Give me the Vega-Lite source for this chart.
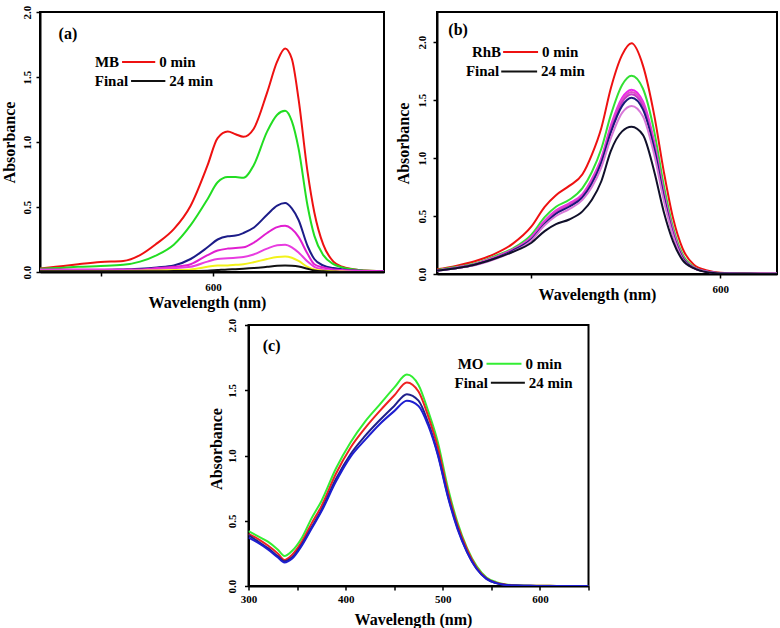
{
  "$schema": "https://vega.github.io/schema/vega-lite/v6.json",
  "background": "white",
  "padding": {"left": 0, "top": 4, "right": 0, "bottom": 0},
  "spacing": 6,
  "datasets": {
    "mb": [
      {"time":"0 min","wl":445,"abs":0.025},{"time":"0 min","wl":460,"abs":0.04},{"time":"0 min","wl":480,"abs":0.06},{"time":"0 min","wl":500,"abs":0.077},{"time":"0 min","wl":520,"abs":0.085},{"time":"0 min","wl":535,"abs":0.13},{"time":"0 min","wl":550,"abs":0.22},{"time":"0 min","wl":565,"abs":0.33},{"time":"0 min","wl":580,"abs":0.51},{"time":"0 min","wl":595,"abs":0.82},{"time":"0 min","wl":604,"abs":1.03},{"time":"0 min","wl":613,"abs":1.08},{"time":"0 min","wl":620,"abs":1.06},{"time":"0 min","wl":627,"abs":1.04},{"time":"0 min","wl":636,"abs":1.10},{"time":"0 min","wl":648,"abs":1.38},{"time":"0 min","wl":657,"abs":1.62},{"time":"0 min","wl":664,"abs":1.72},{"time":"0 min","wl":670,"abs":1.64},{"time":"0 min","wl":676,"abs":1.33},{"time":"0 min","wl":684,"abs":0.77},{"time":"0 min","wl":690,"abs":0.46},{"time":"0 min","wl":698,"abs":0.21},{"time":"0 min","wl":707,"abs":0.08},{"time":"0 min","wl":715,"abs":0.04},{"time":"0 min","wl":730,"abs":0.015},{"time":"0 min","wl":752,"abs":0.005},
      {"time":"4 min","wl":445,"abs":0.025},{"time":"4 min","wl":460,"abs":0.03},{"time":"4 min","wl":480,"abs":0.04},{"time":"4 min","wl":500,"abs":0.046},{"time":"4 min","wl":520,"abs":0.055},{"time":"4 min","wl":535,"abs":0.08},{"time":"4 min","wl":550,"abs":0.13},{"time":"4 min","wl":565,"abs":0.21},{"time":"4 min","wl":580,"abs":0.36},{"time":"4 min","wl":595,"abs":0.56},{"time":"4 min","wl":604,"abs":0.69},{"time":"4 min","wl":613,"abs":0.73},{"time":"4 min","wl":620,"abs":0.73},{"time":"4 min","wl":627,"abs":0.725},{"time":"4 min","wl":636,"abs":0.82},{"time":"4 min","wl":648,"abs":1.08},{"time":"4 min","wl":657,"abs":1.21},{"time":"4 min","wl":664,"abs":1.24},{"time":"4 min","wl":670,"abs":1.16},{"time":"4 min","wl":676,"abs":0.95},{"time":"4 min","wl":684,"abs":0.51},{"time":"4 min","wl":690,"abs":0.28},{"time":"4 min","wl":698,"abs":0.13},{"time":"4 min","wl":707,"abs":0.06},{"time":"4 min","wl":715,"abs":0.035},{"time":"4 min","wl":730,"abs":0.015},{"time":"4 min","wl":752,"abs":0.005},
      {"time":"8 min","wl":445,"abs":0.015},{"time":"8 min","wl":460,"abs":0.015},{"time":"8 min","wl":480,"abs":0.015},{"time":"8 min","wl":500,"abs":0.015},{"time":"8 min","wl":520,"abs":0.02},{"time":"8 min","wl":535,"abs":0.025},{"time":"8 min","wl":550,"abs":0.035},{"time":"8 min","wl":565,"abs":0.05},{"time":"8 min","wl":580,"abs":0.10},{"time":"8 min","wl":595,"abs":0.19},{"time":"8 min","wl":604,"abs":0.25},{"time":"8 min","wl":613,"abs":0.275},{"time":"8 min","wl":620,"abs":0.28},{"time":"8 min","wl":627,"abs":0.30},{"time":"8 min","wl":636,"abs":0.34},{"time":"8 min","wl":648,"abs":0.44},{"time":"8 min","wl":657,"abs":0.51},{"time":"8 min","wl":664,"abs":0.53},{"time":"8 min","wl":670,"abs":0.49},{"time":"8 min","wl":676,"abs":0.40},{"time":"8 min","wl":684,"abs":0.20},{"time":"8 min","wl":690,"abs":0.10},{"time":"8 min","wl":698,"abs":0.05},{"time":"8 min","wl":707,"abs":0.03},{"time":"8 min","wl":715,"abs":0.02},{"time":"8 min","wl":730,"abs":0.01},{"time":"8 min","wl":752,"abs":0.005},
      {"time":"12 min","wl":445,"abs":0.02},{"time":"12 min","wl":460,"abs":0.02},{"time":"12 min","wl":480,"abs":0.02},{"time":"12 min","wl":500,"abs":0.02},{"time":"12 min","wl":520,"abs":0.02},{"time":"12 min","wl":535,"abs":0.02},{"time":"12 min","wl":550,"abs":0.03},{"time":"12 min","wl":565,"abs":0.04},{"time":"12 min","wl":580,"abs":0.06},{"time":"12 min","wl":595,"abs":0.13},{"time":"12 min","wl":604,"abs":0.165},{"time":"12 min","wl":613,"abs":0.18},{"time":"12 min","wl":620,"abs":0.185},{"time":"12 min","wl":627,"abs":0.19},{"time":"12 min","wl":636,"abs":0.225},{"time":"12 min","wl":648,"abs":0.30},{"time":"12 min","wl":657,"abs":0.345},{"time":"12 min","wl":664,"abs":0.355},{"time":"12 min","wl":670,"abs":0.33},{"time":"12 min","wl":676,"abs":0.27},{"time":"12 min","wl":684,"abs":0.14},{"time":"12 min","wl":690,"abs":0.06},{"time":"12 min","wl":698,"abs":0.035},{"time":"12 min","wl":707,"abs":0.02},{"time":"12 min","wl":715,"abs":0.015},{"time":"12 min","wl":730,"abs":0.01},{"time":"12 min","wl":752,"abs":0.005},
      {"time":"16 min","wl":445,"abs":0.015},{"time":"16 min","wl":460,"abs":0.015},{"time":"16 min","wl":480,"abs":0.015},{"time":"16 min","wl":500,"abs":0.015},{"time":"16 min","wl":520,"abs":0.015},{"time":"16 min","wl":535,"abs":0.015},{"time":"16 min","wl":550,"abs":0.02},{"time":"16 min","wl":565,"abs":0.03},{"time":"16 min","wl":580,"abs":0.04},{"time":"16 min","wl":595,"abs":0.08},{"time":"16 min","wl":604,"abs":0.10},{"time":"16 min","wl":613,"abs":0.105},{"time":"16 min","wl":620,"abs":0.11},{"time":"16 min","wl":627,"abs":0.115},{"time":"16 min","wl":636,"abs":0.135},{"time":"16 min","wl":648,"abs":0.18},{"time":"16 min","wl":657,"abs":0.205},{"time":"16 min","wl":664,"abs":0.21},{"time":"16 min","wl":670,"abs":0.19},{"time":"16 min","wl":676,"abs":0.15},{"time":"16 min","wl":684,"abs":0.08},{"time":"16 min","wl":690,"abs":0.04},{"time":"16 min","wl":698,"abs":0.02},{"time":"16 min","wl":707,"abs":0.01},{"time":"16 min","wl":715,"abs":0.01},{"time":"16 min","wl":730,"abs":0.005},{"time":"16 min","wl":752,"abs":0},
      {"time":"20 min","wl":445,"abs":0.005},{"time":"20 min","wl":460,"abs":0.005},{"time":"20 min","wl":480,"abs":0.005},{"time":"20 min","wl":500,"abs":0.005},{"time":"20 min","wl":520,"abs":0.008},{"time":"20 min","wl":535,"abs":0.01},{"time":"20 min","wl":550,"abs":0.012},{"time":"20 min","wl":565,"abs":0.015},{"time":"20 min","wl":580,"abs":0.02},{"time":"20 min","wl":595,"abs":0.04},{"time":"20 min","wl":604,"abs":0.05},{"time":"20 min","wl":613,"abs":0.05},{"time":"20 min","wl":620,"abs":0.055},{"time":"20 min","wl":627,"abs":0.06},{"time":"20 min","wl":636,"abs":0.075},{"time":"20 min","wl":648,"abs":0.10},{"time":"20 min","wl":657,"abs":0.115},{"time":"20 min","wl":664,"abs":0.12},{"time":"20 min","wl":670,"abs":0.11},{"time":"20 min","wl":676,"abs":0.085},{"time":"20 min","wl":684,"abs":0.04},{"time":"20 min","wl":690,"abs":0.02},{"time":"20 min","wl":698,"abs":0.01},{"time":"20 min","wl":707,"abs":0.005},{"time":"20 min","wl":715,"abs":0.003},{"time":"20 min","wl":730,"abs":0},{"time":"20 min","wl":752,"abs":0},
      {"time":"24 min","wl":445,"abs":0.005},{"time":"24 min","wl":460,"abs":0.005},{"time":"24 min","wl":480,"abs":0.005},{"time":"24 min","wl":500,"abs":0.005},{"time":"24 min","wl":520,"abs":0.005},{"time":"24 min","wl":535,"abs":0.005},{"time":"24 min","wl":550,"abs":0.005},{"time":"24 min","wl":565,"abs":0.007},{"time":"24 min","wl":580,"abs":0.008},{"time":"24 min","wl":595,"abs":0.01},{"time":"24 min","wl":604,"abs":0.015},{"time":"24 min","wl":613,"abs":0.02},{"time":"24 min","wl":620,"abs":0.022},{"time":"24 min","wl":627,"abs":0.025},{"time":"24 min","wl":636,"abs":0.03},{"time":"24 min","wl":648,"abs":0.04},{"time":"24 min","wl":657,"abs":0.048},{"time":"24 min","wl":664,"abs":0.05},{"time":"24 min","wl":670,"abs":0.048},{"time":"24 min","wl":676,"abs":0.042},{"time":"24 min","wl":684,"abs":0.025},{"time":"24 min","wl":690,"abs":0.012},{"time":"24 min","wl":698,"abs":0.005},{"time":"24 min","wl":707,"abs":0.002},{"time":"24 min","wl":715,"abs":0},{"time":"24 min","wl":730,"abs":0},{"time":"24 min","wl":752,"abs":0}
    ],
    "rhb": [
      {"time":"0 min","wl":450,"abs":0.04},{"time":"0 min","wl":460,"abs":0.07},{"time":"0 min","wl":470,"abs":0.11},{"time":"0 min","wl":480,"abs":0.17},{"time":"0 min","wl":490,"abs":0.26},{"time":"0 min","wl":500,"abs":0.41},{"time":"0 min","wl":507,"abs":0.58},{"time":"0 min","wl":513,"abs":0.68},{"time":"0 min","wl":520,"abs":0.76},{"time":"0 min","wl":527,"abs":0.86},{"time":"0 min","wl":532,"abs":1.03},{"time":"0 min","wl":537,"abs":1.26},{"time":"0 min","wl":542,"abs":1.60},{"time":"0 min","wl":548,"abs":1.89},{"time":"0 min","wl":553,"abs":1.99},{"time":"0 min","wl":559,"abs":1.80},{"time":"0 min","wl":565,"abs":1.37},{"time":"0 min","wl":570,"abs":0.89},{"time":"0 min","wl":575,"abs":0.48},{"time":"0 min","wl":580,"abs":0.22},{"time":"0 min","wl":586,"abs":0.08},{"time":"0 min","wl":593,"abs":0.03},{"time":"0 min","wl":600,"abs":0.01},{"time":"0 min","wl":615,"abs":0.005},{"time":"0 min","wl":630,"abs":0.003},
      {"time":"4 min","wl":450,"abs":0.035},{"time":"4 min","wl":460,"abs":0.06},{"time":"4 min","wl":470,"abs":0.09},{"time":"4 min","wl":480,"abs":0.15},{"time":"4 min","wl":490,"abs":0.22},{"time":"4 min","wl":500,"abs":0.34},{"time":"4 min","wl":507,"abs":0.49},{"time":"4 min","wl":513,"abs":0.58},{"time":"4 min","wl":520,"abs":0.64},{"time":"4 min","wl":527,"abs":0.74},{"time":"4 min","wl":532,"abs":0.88},{"time":"4 min","wl":537,"abs":1.08},{"time":"4 min","wl":542,"abs":1.37},{"time":"4 min","wl":548,"abs":1.63},{"time":"4 min","wl":553,"abs":1.71},{"time":"4 min","wl":559,"abs":1.60},{"time":"4 min","wl":565,"abs":1.23},{"time":"4 min","wl":570,"abs":0.77},{"time":"4 min","wl":575,"abs":0.40},{"time":"4 min","wl":580,"abs":0.17},{"time":"4 min","wl":586,"abs":0.06},{"time":"4 min","wl":593,"abs":0.02},{"time":"4 min","wl":600,"abs":0.008},{"time":"4 min","wl":615,"abs":0.004},{"time":"4 min","wl":630,"abs":0.002},
      {"time":"8 min","wl":450,"abs":0.03},{"time":"8 min","wl":460,"abs":0.055},{"time":"8 min","wl":470,"abs":0.085},{"time":"8 min","wl":480,"abs":0.14},{"time":"8 min","wl":490,"abs":0.21},{"time":"8 min","wl":500,"abs":0.32},{"time":"8 min","wl":507,"abs":0.46},{"time":"8 min","wl":513,"abs":0.55},{"time":"8 min","wl":520,"abs":0.61},{"time":"8 min","wl":527,"abs":0.69},{"time":"8 min","wl":532,"abs":0.82},{"time":"8 min","wl":537,"abs":1.00},{"time":"8 min","wl":542,"abs":1.28},{"time":"8 min","wl":548,"abs":1.52},{"time":"8 min","wl":553,"abs":1.59},{"time":"8 min","wl":559,"abs":1.49},{"time":"8 min","wl":565,"abs":1.14},{"time":"8 min","wl":570,"abs":0.71},{"time":"8 min","wl":575,"abs":0.37},{"time":"8 min","wl":580,"abs":0.15},{"time":"8 min","wl":586,"abs":0.055},{"time":"8 min","wl":593,"abs":0.02},{"time":"8 min","wl":600,"abs":0.007},{"time":"8 min","wl":615,"abs":0.003},{"time":"8 min","wl":630,"abs":0.002},
      {"time":"12 min","wl":450,"abs":0.03},{"time":"12 min","wl":460,"abs":0.055},{"time":"12 min","wl":470,"abs":0.085},{"time":"12 min","wl":480,"abs":0.14},{"time":"12 min","wl":490,"abs":0.21},{"time":"12 min","wl":500,"abs":0.31},{"time":"12 min","wl":507,"abs":0.45},{"time":"12 min","wl":513,"abs":0.54},{"time":"12 min","wl":520,"abs":0.60},{"time":"12 min","wl":527,"abs":0.68},{"time":"12 min","wl":532,"abs":0.81},{"time":"12 min","wl":537,"abs":0.99},{"time":"12 min","wl":542,"abs":1.26},{"time":"12 min","wl":548,"abs":1.50},{"time":"12 min","wl":553,"abs":1.57},{"time":"12 min","wl":559,"abs":1.47},{"time":"12 min","wl":565,"abs":1.12},{"time":"12 min","wl":570,"abs":0.70},{"time":"12 min","wl":575,"abs":0.36},{"time":"12 min","wl":580,"abs":0.15},{"time":"12 min","wl":586,"abs":0.055},{"time":"12 min","wl":593,"abs":0.02},{"time":"12 min","wl":600,"abs":0.007},{"time":"12 min","wl":615,"abs":0.003},{"time":"12 min","wl":630,"abs":0.002},
      {"time":"16 min","wl":450,"abs":0.03},{"time":"16 min","wl":460,"abs":0.05},{"time":"16 min","wl":470,"abs":0.08},{"time":"16 min","wl":480,"abs":0.135},{"time":"16 min","wl":490,"abs":0.205},{"time":"16 min","wl":500,"abs":0.30},{"time":"16 min","wl":507,"abs":0.44},{"time":"16 min","wl":513,"abs":0.53},{"time":"16 min","wl":520,"abs":0.59},{"time":"16 min","wl":527,"abs":0.67},{"time":"16 min","wl":532,"abs":0.79},{"time":"16 min","wl":537,"abs":0.97},{"time":"16 min","wl":542,"abs":1.24},{"time":"16 min","wl":548,"abs":1.48},{"time":"16 min","wl":553,"abs":1.55},{"time":"16 min","wl":559,"abs":1.45},{"time":"16 min","wl":565,"abs":1.10},{"time":"16 min","wl":570,"abs":0.69},{"time":"16 min","wl":575,"abs":0.35},{"time":"16 min","wl":580,"abs":0.14},{"time":"16 min","wl":586,"abs":0.05},{"time":"16 min","wl":593,"abs":0.02},{"time":"16 min","wl":600,"abs":0.007},{"time":"16 min","wl":615,"abs":0.003},{"time":"16 min","wl":630,"abs":0.002},
      {"time":"20 min","wl":450,"abs":0.03},{"time":"20 min","wl":460,"abs":0.05},{"time":"20 min","wl":470,"abs":0.08},{"time":"20 min","wl":480,"abs":0.13},{"time":"20 min","wl":490,"abs":0.20},{"time":"20 min","wl":500,"abs":0.30},{"time":"20 min","wl":507,"abs":0.43},{"time":"20 min","wl":513,"abs":0.52},{"time":"20 min","wl":520,"abs":0.58},{"time":"20 min","wl":527,"abs":0.66},{"time":"20 min","wl":532,"abs":0.78},{"time":"20 min","wl":537,"abs":0.96},{"time":"20 min","wl":542,"abs":1.22},{"time":"20 min","wl":548,"abs":1.45},{"time":"20 min","wl":553,"abs":1.52},{"time":"20 min","wl":559,"abs":1.42},{"time":"20 min","wl":565,"abs":1.08},{"time":"20 min","wl":570,"abs":0.67},{"time":"20 min","wl":575,"abs":0.34},{"time":"20 min","wl":580,"abs":0.14},{"time":"20 min","wl":586,"abs":0.05},{"time":"20 min","wl":593,"abs":0.02},{"time":"20 min","wl":600,"abs":0.007},{"time":"20 min","wl":615,"abs":0.003},{"time":"20 min","wl":630,"abs":0.002},
      {"time":"22 min","wl":450,"abs":0.03},{"time":"22 min","wl":460,"abs":0.05},{"time":"22 min","wl":470,"abs":0.075},{"time":"22 min","wl":480,"abs":0.125},{"time":"22 min","wl":490,"abs":0.19},{"time":"22 min","wl":500,"abs":0.29},{"time":"22 min","wl":507,"abs":0.42},{"time":"22 min","wl":513,"abs":0.50},{"time":"22 min","wl":520,"abs":0.56},{"time":"22 min","wl":527,"abs":0.64},{"time":"22 min","wl":532,"abs":0.75},{"time":"22 min","wl":537,"abs":0.92},{"time":"22 min","wl":542,"abs":1.17},{"time":"22 min","wl":548,"abs":1.39},{"time":"22 min","wl":553,"abs":1.45},{"time":"22 min","wl":559,"abs":1.36},{"time":"22 min","wl":565,"abs":1.03},{"time":"22 min","wl":570,"abs":0.64},{"time":"22 min","wl":575,"abs":0.33},{"time":"22 min","wl":580,"abs":0.13},{"time":"22 min","wl":586,"abs":0.05},{"time":"22 min","wl":593,"abs":0.02},{"time":"22 min","wl":600,"abs":0.007},{"time":"22 min","wl":615,"abs":0.003},{"time":"22 min","wl":630,"abs":0.002},
      {"time":"24 min","wl":450,"abs":0.03},{"time":"24 min","wl":460,"abs":0.05},{"time":"24 min","wl":470,"abs":0.08},{"time":"24 min","wl":480,"abs":0.13},{"time":"24 min","wl":490,"abs":0.19},{"time":"24 min","wl":500,"abs":0.27},{"time":"24 min","wl":507,"abs":0.37},{"time":"24 min","wl":513,"abs":0.43},{"time":"24 min","wl":520,"abs":0.47},{"time":"24 min","wl":527,"abs":0.54},{"time":"24 min","wl":532,"abs":0.64},{"time":"24 min","wl":537,"abs":0.80},{"time":"24 min","wl":542,"abs":1.06},{"time":"24 min","wl":548,"abs":1.23},{"time":"24 min","wl":553,"abs":1.27},{"time":"24 min","wl":559,"abs":1.20},{"time":"24 min","wl":565,"abs":0.885},{"time":"24 min","wl":570,"abs":0.54},{"time":"24 min","wl":575,"abs":0.28},{"time":"24 min","wl":580,"abs":0.12},{"time":"24 min","wl":586,"abs":0.05},{"time":"24 min","wl":593,"abs":0.015},{"time":"24 min","wl":600,"abs":0.005},{"time":"24 min","wl":615,"abs":0.002},{"time":"24 min","wl":630,"abs":0}
    ],
    "mo": [
      {"time":"0 min","wl":300,"abs":0.42},{"time":"0 min","wl":310,"abs":0.38},{"time":"0 min","wl":320,"abs":0.34},{"time":"0 min","wl":330,"abs":0.28},{"time":"0 min","wl":337,"abs":0.23},{"time":"0 min","wl":345,"abs":0.27},{"time":"0 min","wl":355,"abs":0.37},{"time":"0 min","wl":365,"abs":0.52},{"time":"0 min","wl":375,"abs":0.65},{"time":"0 min","wl":390,"abs":0.90},{"time":"0 min","wl":405,"abs":1.10},{"time":"0 min","wl":420,"abs":1.26},{"time":"0 min","wl":435,"abs":1.39},{"time":"0 min","wl":450,"abs":1.52},{"time":"0 min","wl":463,"abs":1.62},{"time":"0 min","wl":475,"abs":1.54},{"time":"0 min","wl":485,"abs":1.34},{"time":"0 min","wl":495,"abs":1.10},{"time":"0 min","wl":505,"abs":0.76},{"time":"0 min","wl":515,"abs":0.49},{"time":"0 min","wl":525,"abs":0.29},{"time":"0 min","wl":535,"abs":0.15},{"time":"0 min","wl":545,"abs":0.065},{"time":"0 min","wl":555,"abs":0.03},{"time":"0 min","wl":565,"abs":0.012},{"time":"0 min","wl":575,"abs":0.005},{"time":"0 min","wl":590,"abs":0.002},{"time":"0 min","wl":610,"abs":0.001},{"time":"0 min","wl":630,"abs":0},{"time":"0 min","wl":650,"abs":0},
      {"time":"8 min","wl":300,"abs":0.40},{"time":"8 min","wl":310,"abs":0.36},{"time":"8 min","wl":320,"abs":0.31},{"time":"8 min","wl":330,"abs":0.25},{"time":"8 min","wl":337,"abs":0.20},{"time":"8 min","wl":345,"abs":0.24},{"time":"8 min","wl":355,"abs":0.34},{"time":"8 min","wl":365,"abs":0.48},{"time":"8 min","wl":375,"abs":0.61},{"time":"8 min","wl":390,"abs":0.86},{"time":"8 min","wl":405,"abs":1.06},{"time":"8 min","wl":420,"abs":1.21},{"time":"8 min","wl":435,"abs":1.34},{"time":"8 min","wl":450,"abs":1.46},{"time":"8 min","wl":463,"abs":1.56},{"time":"8 min","wl":475,"abs":1.49},{"time":"8 min","wl":485,"abs":1.30},{"time":"8 min","wl":495,"abs":1.06},{"time":"8 min","wl":505,"abs":0.73},{"time":"8 min","wl":515,"abs":0.47},{"time":"8 min","wl":525,"abs":0.28},{"time":"8 min","wl":535,"abs":0.14},{"time":"8 min","wl":545,"abs":0.06},{"time":"8 min","wl":555,"abs":0.025},{"time":"8 min","wl":565,"abs":0.01},{"time":"8 min","wl":575,"abs":0.004},{"time":"8 min","wl":590,"abs":0.002},{"time":"8 min","wl":610,"abs":0.001},{"time":"8 min","wl":630,"abs":0},{"time":"8 min","wl":650,"abs":0},
      {"time":"16 min","wl":300,"abs":0.39},{"time":"16 min","wl":310,"abs":0.34},{"time":"16 min","wl":320,"abs":0.29},{"time":"16 min","wl":330,"abs":0.23},{"time":"16 min","wl":337,"abs":0.19},{"time":"16 min","wl":345,"abs":0.22},{"time":"16 min","wl":355,"abs":0.32},{"time":"16 min","wl":365,"abs":0.45},{"time":"16 min","wl":375,"abs":0.58},{"time":"16 min","wl":390,"abs":0.82},{"time":"16 min","wl":405,"abs":1.01},{"time":"16 min","wl":420,"abs":1.15},{"time":"16 min","wl":435,"abs":1.27},{"time":"16 min","wl":450,"abs":1.38},{"time":"16 min","wl":463,"abs":1.47},{"time":"16 min","wl":475,"abs":1.42},{"time":"16 min","wl":485,"abs":1.25},{"time":"16 min","wl":495,"abs":1.01},{"time":"16 min","wl":505,"abs":0.70},{"time":"16 min","wl":515,"abs":0.45},{"time":"16 min","wl":525,"abs":0.26},{"time":"16 min","wl":535,"abs":0.13},{"time":"16 min","wl":545,"abs":0.055},{"time":"16 min","wl":555,"abs":0.022},{"time":"16 min","wl":565,"abs":0.008},{"time":"16 min","wl":575,"abs":0.003},{"time":"16 min","wl":590,"abs":0.001},{"time":"16 min","wl":610,"abs":0},{"time":"16 min","wl":630,"abs":0},{"time":"16 min","wl":650,"abs":0},
      {"time":"24 min","wl":300,"abs":0.37},{"time":"24 min","wl":310,"abs":0.33},{"time":"24 min","wl":320,"abs":0.28},{"time":"24 min","wl":330,"abs":0.22},{"time":"24 min","wl":337,"abs":0.18},{"time":"24 min","wl":345,"abs":0.21},{"time":"24 min","wl":355,"abs":0.31},{"time":"24 min","wl":365,"abs":0.44},{"time":"24 min","wl":375,"abs":0.57},{"time":"24 min","wl":390,"abs":0.80},{"time":"24 min","wl":405,"abs":0.99},{"time":"24 min","wl":420,"abs":1.12},{"time":"24 min","wl":435,"abs":1.24},{"time":"24 min","wl":450,"abs":1.34},{"time":"24 min","wl":463,"abs":1.42},{"time":"24 min","wl":475,"abs":1.38},{"time":"24 min","wl":485,"abs":1.23},{"time":"24 min","wl":495,"abs":1.00},{"time":"24 min","wl":505,"abs":0.69},{"time":"24 min","wl":515,"abs":0.44},{"time":"24 min","wl":525,"abs":0.26},{"time":"24 min","wl":535,"abs":0.13},{"time":"24 min","wl":545,"abs":0.055},{"time":"24 min","wl":555,"abs":0.022},{"time":"24 min","wl":565,"abs":0.008},{"time":"24 min","wl":575,"abs":0.003},{"time":"24 min","wl":590,"abs":0.001},{"time":"24 min","wl":610,"abs":0},{"time":"24 min","wl":630,"abs":0},{"time":"24 min","wl":650,"abs":0}
    ],
    "keys": [
      {"panel":"a","dye":"MB","time":"0 min","x0":519,"x1":548.5,"y":1.615},
      {"panel":"a","dye":"Final","time":"24 min","x0":527,"x1":557.5,"y":1.47},
      {"panel":"b","dye":"RhB","time":"0 min","x0":485,"x1":503.5,"y":1.914},
      {"panel":"b","dye":"Final","time":"24 min","x0":484,"x1":503,"y":1.747},
      {"panel":"c","dye":"MO","time":"0 min","x0":545,"x1":581,"y":1.703},
      {"panel":"c","dye":"Final","time":"24 min","x0":549.5,"x1":584.5,"y":1.558}
    ],
    "tags": [
      {"panel":"a","tag":"(a)","x":462.5,"y":1.83},
      {"panel":"b","tag":"(b)","x":456,"y":2.107},
      {"panel":"c","tag":"(c)","x":314.7,"y":1.839}
    ]
  },
  "vconcat": [
    {
      "bounds": "flush",
      "spacing": 53,
      "hconcat": [
        {
          "width": 344,
          "height": 260,
          "resolve": {"scale": {"color": "independent"}},
          "layer": [
            {
              "data": {"name": "mb"},
              "mark": {"type": "line", "strokeWidth": 2, "interpolate": "monotone", "clip": true},
              "encoding": {
                "x": {"field": "wl", "type": "quantitative", "scale": {"domain": [446, 752], "nice": false, "zero": false},
                      "axis": {"title": "Wavelength (nm)", "values": [500, 600, 700], "labelExpr": "datum.value == 600 ? '600' : ''", "labelPadding": 5, "titleX": 167, "titleY": 30, "titleBaseline": "middle", "titleAlign": "center"}},
                "y": {"field": "abs", "type": "quantitative", "scale": {"domain": [0, 2], "nice": false},
                      "axis": {"title": "Absorbance", "values": [0, 0.25, 0.5, 0.75, 1, 1.25, 1.5, 1.75, 2], "labelExpr": "datum.value % 0.5 == 0 ? format(datum.value, '.1f') : ''", "labelAngle": -90, "labelAlign": "center", "labelBaseline": "middle", "labelPadding": 8.5, "titleX": -30.5, "titleY": 130, "titleAngle": 270, "titleBaseline": "middle", "titleAlign": "center"}},
                "color": {"field": "time", "type": "nominal", "legend": null,
                          "scale": {"domain": ["0 min", "4 min", "8 min", "12 min", "16 min", "20 min", "24 min"], "range": ["#ee1111", "#22dd22", "#1c1c88", "#e01ed0", "#e83ce0", "#f2f21a", "#111111"]}}
              }
            },
            {
              "data": {"name": "keys"},
              "transform": [{"filter": "datum.panel == 'a'"}],
              "mark": {"type": "rule", "strokeWidth": 2},
              "encoding": {
                "x": {"field": "x0", "type": "quantitative"},
                "x2": {"field": "x1"},
                "y": {"field": "y", "type": "quantitative"},
                "color": {"field": "time", "type": "nominal", "legend": null, "scale": {"domain": ["0 min", "24 min"], "range": ["#ee1111", "#111111"]}}
              }
            },
            {
              "data": {"name": "keys"},
              "transform": [{"filter": "datum.panel == 'a'"}],
              "mark": {"type": "text", "align": "right", "dx": -3},
              "encoding": {"x": {"field": "x0", "type": "quantitative"}, "y": {"field": "y", "type": "quantitative"}, "text": {"field": "dye"}}
            },
            {
              "data": {"name": "keys"},
              "transform": [{"filter": "datum.panel == 'a'"}],
              "mark": {"type": "text", "align": "left", "dx": 4},
              "encoding": {"x": {"field": "x1", "type": "quantitative"}, "y": {"field": "y", "type": "quantitative"}, "text": {"field": "time"}}
            },
            {
              "data": {"name": "tags"},
              "transform": [{"filter": "datum.panel == 'a'"}],
              "mark": {"type": "text", "align": "left", "fontSize": 16},
              "encoding": {"x": {"field": "x", "type": "quantitative"}, "y": {"field": "y", "type": "quantitative"}, "text": {"field": "tag"}}
            }
          ]
        },
        {
          "width": 340,
          "height": 262,
          "resolve": {"scale": {"color": "independent"}},
          "layer": [
            {
              "data": {"name": "rhb"},
              "mark": {"type": "line", "strokeWidth": 2, "interpolate": "monotone", "clip": true},
              "encoding": {
                "x": {"field": "wl", "type": "quantitative", "scale": {"domain": [450, 630], "nice": false, "zero": false},
                      "axis": {"title": "Wavelength (nm)", "values": [500, 600], "labelExpr": "datum.value == 600 ? '600' : ''", "labelPadding": 5.5, "titleX": 160, "titleY": 20, "titleBaseline": "middle", "titleAlign": "center"}},
                "y": {"field": "abs", "type": "quantitative", "scale": {"domain": [0, 2.26], "nice": false},
                      "axis": {"title": "Absorbance", "values": [0, 0.25, 0.5, 0.75, 1, 1.25, 1.5, 1.75, 2], "labelExpr": "datum.value % 0.5 == 0 ? format(datum.value, '.1f') : ''", "labelAngle": -90, "labelAlign": "center", "labelBaseline": "middle", "labelPadding": 10.5, "titleX": -34, "titleY": 131, "titleAngle": 270, "titleBaseline": "middle", "titleAlign": "center"}},
                "color": {"field": "time", "type": "nominal", "legend": null,
                          "scale": {"domain": ["0 min", "4 min", "8 min", "12 min", "16 min", "20 min", "22 min", "24 min"], "range": ["#ee1111", "#33e033", "#ee22ee", "#e050c8", "#c838c8", "#18187a", "#d878d8", "#10102a"]}}
              }
            },
            {
              "data": {"name": "keys"},
              "transform": [{"filter": "datum.panel == 'b'"}],
              "mark": {"type": "rule", "strokeWidth": 2},
              "encoding": {
                "x": {"field": "x0", "type": "quantitative"},
                "x2": {"field": "x1"},
                "y": {"field": "y", "type": "quantitative"},
                "color": {"field": "time", "type": "nominal", "legend": null, "scale": {"domain": ["0 min", "24 min"], "range": ["#ee1111", "#111111"]}}
              }
            },
            {
              "data": {"name": "keys"},
              "transform": [{"filter": "datum.panel == 'b'"}],
              "mark": {"type": "text", "align": "right", "dx": -2},
              "encoding": {"x": {"field": "x0", "type": "quantitative"}, "y": {"field": "y", "type": "quantitative"}, "text": {"field": "dye"}}
            },
            {
              "data": {"name": "keys"},
              "transform": [{"filter": "datum.panel == 'b'"}],
              "mark": {"type": "text", "align": "left", "dx": 4},
              "encoding": {"x": {"field": "x1", "type": "quantitative"}, "y": {"field": "y", "type": "quantitative"}, "text": {"field": "time"}}
            },
            {
              "data": {"name": "tags"},
              "transform": [{"filter": "datum.panel == 'b'"}],
              "mark": {"type": "text", "align": "left", "fontSize": 16},
              "encoding": {"x": {"field": "x", "type": "quantitative"}, "y": {"field": "y", "type": "quantitative"}, "text": {"field": "tag"}}
            }
          ]
        }
      ]
    },
    {
      "bounds": "flush",
      "spacing": 18.5,
      "hconcat": [
        {
          "width": 190,
          "height": 261,
          "data": {"values": []},
          "mark": "point",
          "view": {"stroke": null}
        },
        {
          "width": 340,
          "height": 261,
          "resolve": {"scale": {"color": "independent"}},
          "layer": [
            {
              "data": {"name": "mo"},
              "mark": {"type": "line", "strokeWidth": 2, "interpolate": "monotone", "clip": true},
              "encoding": {
                "x": {"field": "wl", "type": "quantitative", "scale": {"domain": [300, 650], "nice": false, "zero": false},
                      "axis": {"title": "Wavelength (nm)", "values": [300, 350, 400, 450, 500, 550, 600, 650], "labelExpr": "datum.value % 100 == 0 ? format(datum.value, 'd') : ''", "labelPadding": 3.5, "titleX": 164.5, "titleY": 33.3, "titleBaseline": "middle", "titleAlign": "center"}},
                "y": {"field": "abs", "type": "quantitative", "scale": {"domain": [0, 2], "nice": false},
                      "axis": {"title": "Absorbance", "values": [0, 0.25, 0.5, 0.75, 1, 1.25, 1.5, 1.75, 2], "labelExpr": "datum.value % 0.5 == 0 ? format(datum.value, '.1f') : ''", "labelAngle": -90, "labelAlign": "center", "labelBaseline": "middle", "labelPadding": 12.5, "titleX": -32.5, "titleY": 123.5, "titleAngle": 270, "titleBaseline": "middle", "titleAlign": "center"}},
                "color": {"field": "time", "type": "nominal", "legend": null,
                          "scale": {"domain": ["0 min", "8 min", "16 min", "24 min"], "range": ["#33ee33", "#ee2222", "#20208c", "#1e1ed0"]}}
              }
            },
            {
              "data": {"name": "keys"},
              "transform": [{"filter": "datum.panel == 'c'"}],
              "mark": {"type": "rule", "strokeWidth": 2},
              "encoding": {
                "x": {"field": "x0", "type": "quantitative"},
                "x2": {"field": "x1"},
                "y": {"field": "y", "type": "quantitative"},
                "color": {"field": "time", "type": "nominal", "legend": null, "scale": {"domain": ["0 min", "24 min"], "range": ["#33ee33", "#111111"]}}
              }
            },
            {
              "data": {"name": "keys"},
              "transform": [{"filter": "datum.panel == 'c'"}],
              "mark": {"type": "text", "align": "right", "dx": -3},
              "encoding": {"x": {"field": "x0", "type": "quantitative"}, "y": {"field": "y", "type": "quantitative"}, "text": {"field": "dye"}}
            },
            {
              "data": {"name": "keys"},
              "transform": [{"filter": "datum.panel == 'c'"}],
              "mark": {"type": "text", "align": "left", "dx": 4},
              "encoding": {"x": {"field": "x1", "type": "quantitative"}, "y": {"field": "y", "type": "quantitative"}, "text": {"field": "time"}}
            },
            {
              "data": {"name": "tags"},
              "transform": [{"filter": "datum.panel == 'c'"}],
              "mark": {"type": "text", "align": "left", "fontSize": 16},
              "encoding": {"x": {"field": "x", "type": "quantitative"}, "y": {"field": "y", "type": "quantitative"}, "text": {"field": "tag"}}
            }
          ]
        }
      ]
    }
  ],
  "config": {
    "font": "Liberation Serif",
    "view": {"stroke": "black", "strokeWidth": 2},
    "axis": {
      "grid": false,
      "domainColor": "black", "domainWidth": 2,
      "tickColor": "black", "tickWidth": 1.5, "tickSize": 4,
      "labelFont": "Liberation Serif", "labelFontWeight": "bold", "labelFontSize": 11, "labelColor": "black",
      "labelOverlap": false, "labelFlush": false, "labelBound": false,
      "titleFont": "Liberation Serif", "titleFontWeight": "bold", "titleFontSize": 16, "titleColor": "black"
    },
    "text": {"font": "Liberation Serif", "fontWeight": "bold", "fontSize": 15, "baseline": "middle", "color": "black"}
  }
}
